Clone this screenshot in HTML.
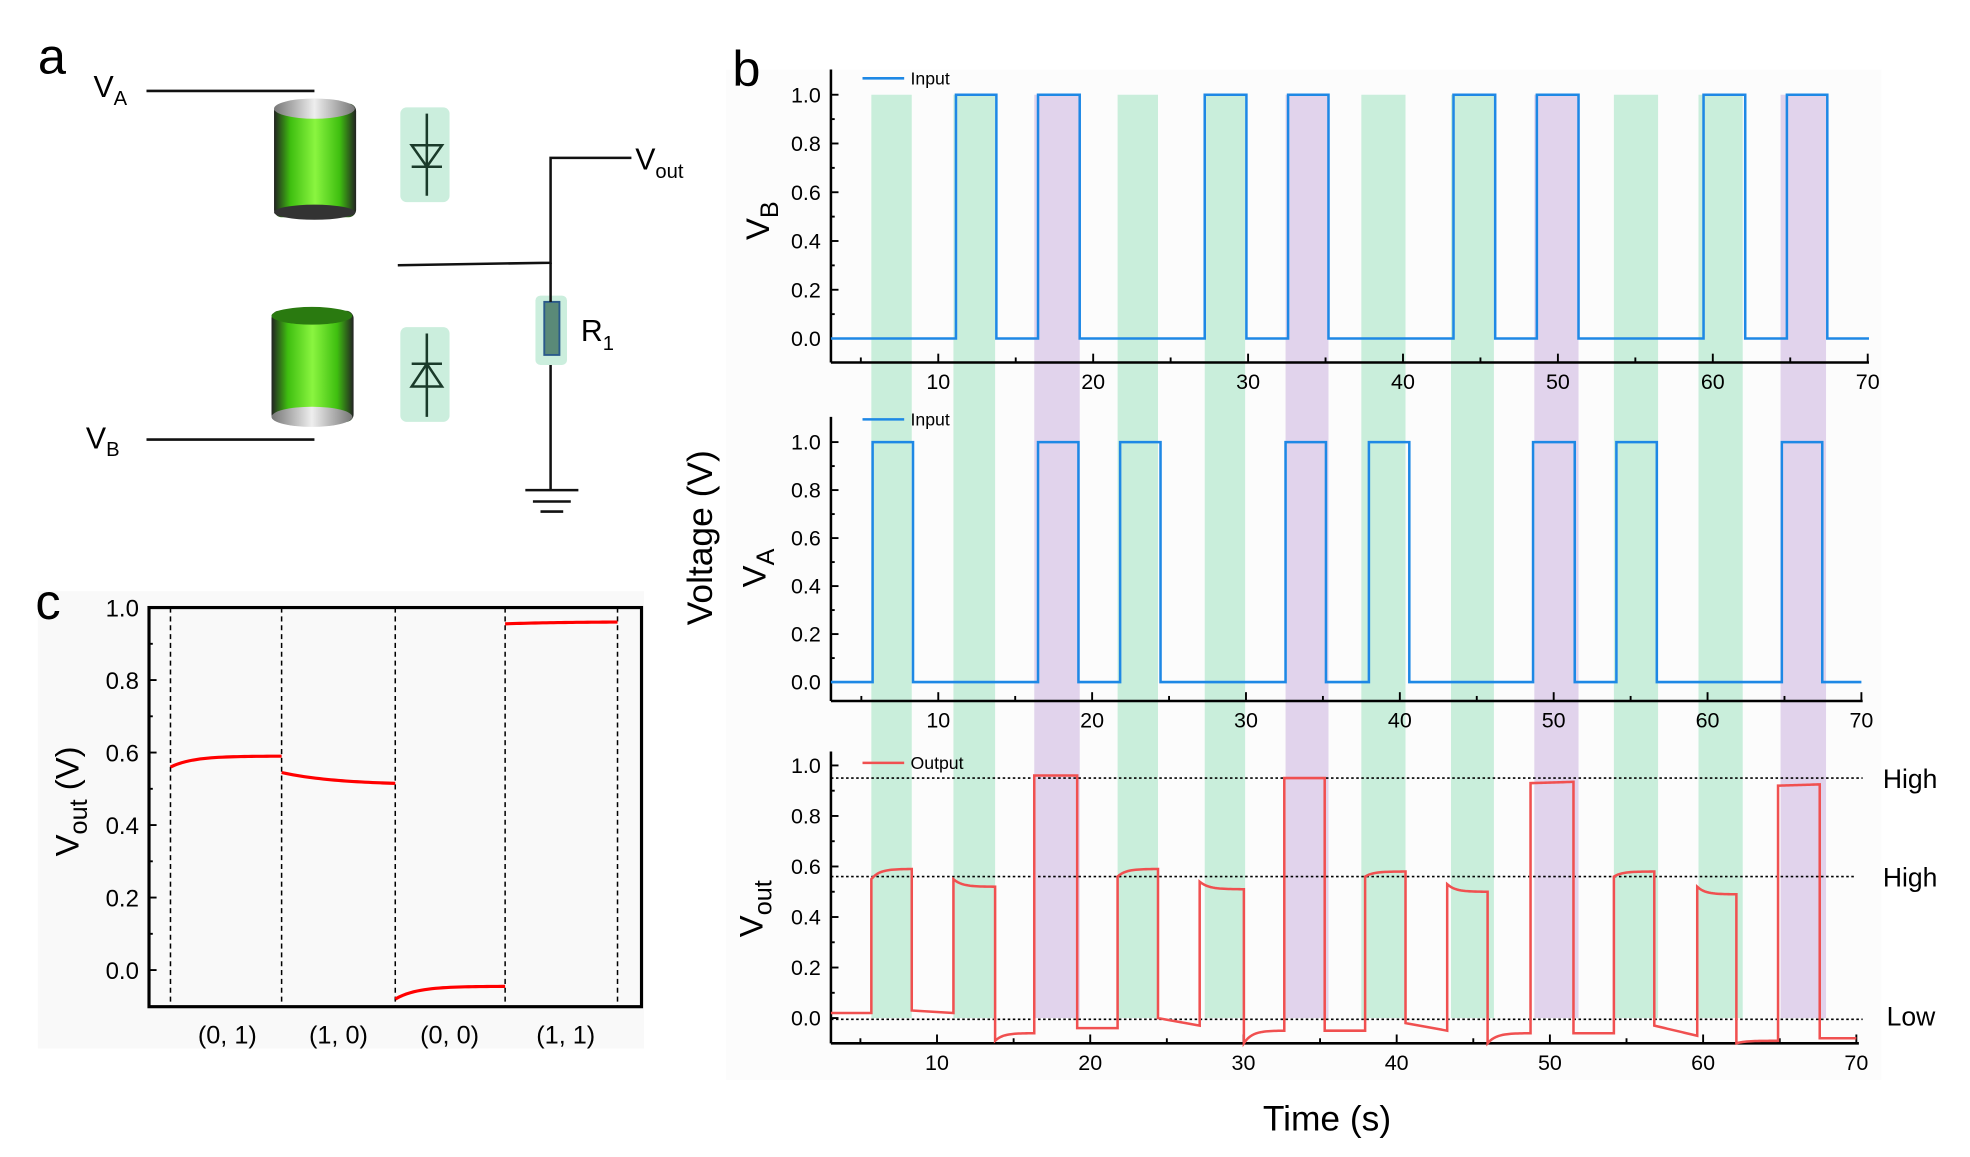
<!DOCTYPE html>
<html><head><meta charset="utf-8"><style>
html,body{margin:0;padding:0;background:#fff;}
svg{display:block;font-family:"Liberation Sans",sans-serif;}
</style></head><body>
<svg id="s" width="1970" height="1157" viewBox="0 0 1560 916" preserveAspectRatio="none" xmlns="http://www.w3.org/2000/svg">
<rect x="0" y="0" width="1560" height="916" fill="#fff"/>
<!-- panel c background -->
<rect x="30" y="468" width="480" height="362" fill="#f9f9f9"/>
<rect x="575" y="55" width="915" height="800" fill="#fcfcfc"/>
<g id="bands"></g>
<g id="axes"></g>
<!-- panel a -->
<text x="30" y="58" font-size="40">a</text>
<text x="580" y="68" font-size="40">b</text>
<text x="28" y="490" font-size="40">c</text>
<text x="74" y="77" font-size="24">V<tspan font-size="16" dy="6">A</tspan></text>
<text x="68" y="355" font-size="24">V<tspan font-size="16" dy="6">B</tspan></text>
<line x1="116" y1="72" x2="249" y2="72" stroke="#111" stroke-width="2"/>
<line x1="116" y1="348" x2="249" y2="348" stroke="#111" stroke-width="2"/>
<defs>
<linearGradient id="bg" x1="0" x2="1"><stop offset="0" stop-color="#222"/><stop offset="0.2" stop-color="#3fbf10"/><stop offset="0.5" stop-color="#8af540"/><stop offset="0.8" stop-color="#3fbf10"/><stop offset="1" stop-color="#222"/></linearGradient>
<linearGradient id="mg" x1="0" x2="1"><stop offset="0" stop-color="#777"/><stop offset="0.5" stop-color="#eee"/><stop offset="1" stop-color="#777"/></linearGradient>
</defs>
<g>
<rect x="217" y="82" width="65" height="90" rx="6" fill="url(#bg)"/>
<ellipse cx="249" cy="86" rx="32" ry="8" fill="url(#mg)"/>
<ellipse cx="249" cy="168" rx="32" ry="6" fill="#333"/>
<rect x="215" y="246" width="65" height="88" rx="6" fill="url(#bg)"/>
<ellipse cx="247" cy="250" rx="32" ry="7" fill="#2a7a10"/>
<ellipse cx="247" cy="330" rx="32" ry="8" fill="url(#mg)"/>
</g>
<rect x="317" y="85" width="39" height="75" rx="5" fill="#cbeedd"/>
<line x1="338" y1="90" x2="338" y2="155" stroke="#1a3a2a" stroke-width="2"/>
<polygon points="326,115 350,115 338,132" fill="none" stroke="#1a3a2a" stroke-width="2"/>
<line x1="326" y1="132" x2="350" y2="132" stroke="#1a3a2a" stroke-width="2"/>
<rect x="317" y="259" width="39" height="75" rx="5" fill="#cbeedd"/>
<line x1="338" y1="264" x2="338" y2="330" stroke="#1a3a2a" stroke-width="2"/>
<polygon points="326,306 350,306 338,288" fill="none" stroke="#1a3a2a" stroke-width="2"/>
<line x1="326" y1="288" x2="350" y2="288" stroke="#1a3a2a" stroke-width="2"/>
<polyline points="315,210 436,208 436,125 500,125" fill="none" stroke="#111" stroke-width="2"/>
<rect x="424" y="234" width="25" height="55" rx="4" fill="#cbeedd"/>
<rect x="431" y="239" width="12" height="42" fill="#5a8a78" stroke="#2a5a8a" stroke-width="1.5"/>
<line x1="436" y1="208" x2="436" y2="239" stroke="#111" stroke-width="2"/>
<line x1="436" y1="289" x2="436" y2="388" stroke="#111" stroke-width="2"/>
<line x1="416" y1="388" x2="458" y2="388" stroke="#111" stroke-width="2"/>
<line x1="422" y1="397" x2="452" y2="397" stroke="#111" stroke-width="2"/>
<line x1="428" y1="405" x2="446" y2="405" stroke="#111" stroke-width="2"/>
<text x="503" y="134" font-size="24">V<tspan font-size="16" dy="7">out</tspan></text>
<text x="460" y="270" font-size="24">R<tspan font-size="16" dy="7">1</tspan></text>
<g id="data"></g>
<!-- labels -->
<text transform="translate(609,190) rotate(-90)" font-size="26">V<tspan font-size="20" dy="7">B</tspan></text>
<text transform="translate(606,465) rotate(-90)" font-size="26">V<tspan font-size="20" dy="7">A</tspan></text>
<text transform="translate(604,742) rotate(-90)" font-size="26">V<tspan font-size="20" dy="7">out</tspan></text>
<text transform="translate(564,495) rotate(-90)" font-size="28">Voltage (V)</text>
<text x="1000" y="895" font-size="28">Time (s)</text>
<text transform="translate(62,678) rotate(-90)" font-size="26">V<tspan font-size="20" dy="7">out</tspan><tspan dy="-7">  (V)</tspan></text>
<text x="1491" y="624" font-size="21">High</text>
<text x="1491" y="702" font-size="21">High</text>
<text x="1494" y="812" font-size="21">Low</text>
<g font-size="20" text-anchor="middle">
<text x="180" y="826">(0,  1)</text><text x="268" y="826">(1,  0)</text>
<text x="356" y="826">(0,  0)</text><text x="448" y="826">(1,  1)</text>
</g>
</svg>
<script>
const NS="http://www.w3.org/2000/svg";
function el(p,t,a){const e=document.createElementNS(NS,t);for(const k in a)e.setAttribute(k,a[k]);document.getElementById(p).appendChild(e);return e;}
function txt(p,x,y,s,a){const e=el(p,'text',Object.assign({x:x,y:y,'font-size':17},a||{}));e.textContent=s;}
// bands
const G=[[690,722],[755,788],[885,917],[954,986],[1078,1113],[1149,1183],[1278,1313],[1345,1380]];
const P=[[819,855],[1018,1052],[1215,1250],[1410,1446]];
G.forEach(b=>el('bands','rect',{x:b[0],y:75,width:b[1]-b[0],height:731,fill:'#c9eedb'}));
P.forEach(b=>el('bands','rect',{x:b[0],y:75,width:b[1]-b[0],height:731,fill:'#e1d3ec'}));
// axes
function axis(x0,x1,ytop,ybot,y1,y0,t10,t70,ylab){
 el('axes','line',{x1:x0,y1:ytop,x2:x0,y2:ybot,stroke:'#000','stroke-width':2});
 el('axes','line',{x1:x0,y1:ybot,x2:x1,y2:ybot,stroke:'#000','stroke-width':2});
 const k=(t70-t10)/60;
 for(let t=5;t<=70;t+=5){const x=t10+(t-10)*k;if(x<x0)continue;
  el('axes','line',{x1:x,y1:ybot,x2:x,y2:ybot-(t%10?4:7),stroke:'#000','stroke-width':1.5});
  if(t%10==0)txt('axes',x,ybot+21,String(t),{'text-anchor':'middle'});}
 for(let i=0;i<=10;i++){const v=i/10,y=y0+(y1-y0)*v;
  el('axes','line',{x1:x0,y1:y,x2:x0+(i%2?3:6),y2:y,stroke:'#000','stroke-width':1.5});
  if(i%2==0)txt('axes',x0-8,y+6,v.toFixed(1),{'text-anchor':'end'});}
}
axis(658,1480,55,287,75,268,743,1479);
axis(658,1475,330,555,350,540,743,1474);
axis(658,1472,595,826,606,806,742,1470);
// legends
el('axes','line',{x1:683,y1:62,x2:716,y2:62,stroke:'#1e88e5','stroke-width':2});txt('axes',721,67,'Input',{'font-size':14});
el('axes','line',{x1:683,y1:332,x2:716,y2:332,stroke:'#1e88e5','stroke-width':2});txt('axes',721,337,'Input',{'font-size':14});
el('axes','line',{x1:683,y1:604,x2:716,y2:604,stroke:'#f05050','stroke-width':2});txt('axes',721,609,'Output',{'font-size':14});
// square waves
function sq(x0,x1,yl,yh,hs){let p=[[x0,yl]];hs.forEach(h=>{p.push([h[0],yl],[h[0],yh],[h[1],yh],[h[1],yl]);});p.push([x1,yl]);
 el('data','polyline',{points:p.map(q=>q.join(',')).join(' '),fill:'none',stroke:'#1e88e5','stroke-width':2});}
sq(658,1480,268,75,[[757,789],[822,855],[954,987],[1020,1052],[1151,1184],[1217,1250],[1349,1382],[1415,1447]]);
sq(658,1474,540,350,[[691,723],[822,854],[887,919],[1018,1050],[1084,1116],[1214,1247],[1280,1312],[1411,1443]]);
// dotted lines
[[616,1475],[694,1468],[807,1475]].forEach(d=>el('data','line',{x1:658,y1:d[0],x2:d[1],y2:d[0],stroke:'#000','stroke-width':1.3,'stroke-dasharray':'2,2'}));
// output
const Y=v=>806-200*v;
function seg(xa,xb,va,vb,sat){const p=[];for(let i=0;i<=20;i++){const f=i/20;const g=sat?(1-Math.exp(-5*f))/(1-Math.exp(-5)):f;p.push([xa+(xb-xa)*f,Y(va+(vb-va)*g)]);}return p;}
const S=[[658,690,0.02,0.02,0],[690,722,0.55,0.59,1],[722,755,0.03,0.02,0],[755,788,0.55,0.52,1],[788,819,-0.09,-0.06,1],[819,853,0.96,0.96,0],[853,885,-0.04,-0.04,0],[885,917,0.56,0.59,1],[917,950,0.0,-0.03,0],[950,985,0.54,0.51,1],[985,1017,-0.1,-0.05,1],[1017,1049,0.95,0.95,0],[1049,1081,-0.05,-0.05,0],[1081,1113,0.56,0.58,1],[1113,1146,-0.02,-0.05,0],[1146,1178,0.53,0.5,1],[1178,1212,-0.1,-0.06,1],[1212,1246,0.93,0.935,0],[1246,1278,-0.06,-0.06,0],[1278,1310,0.56,0.58,1],[1310,1344,-0.03,-0.07,0],[1344,1375,0.52,0.49,1],[1375,1408,-0.1,-0.09,1],[1408,1441,0.92,0.925,0],[1441,1470,-0.08,-0.08,0]];
let pts=[];S.forEach(s=>{pts=pts.concat(seg(s[0],s[1],s[2],s[3],s[4]));});
el('data','polyline',{points:pts.map(q=>q.join(',')).join(' '),fill:'none',stroke:'#f05050','stroke-width':2});
// panel c
const cy=v=>768-287*v;
el('data','rect',{x:118,y:481,width:390,height:316,fill:'none',stroke:'#000','stroke-width':2.5});
[135,223,313,400,489].forEach(x=>el('data','line',{x1:x,y1:481,x2:x,y2:797,stroke:'#000','stroke-width':1.2,'stroke-dasharray':'4,3'}));
for(let i=0;i<=10;i++){const v=i/10,y=cy(v);el('data','line',{x1:118,y1:y,x2:118+(i%2?3:6),y2:y,stroke:'#000','stroke-width':1.5});
 if(i%2==0)txt('data',110,y+7,v.toFixed(1),{'text-anchor':'end','font-size':19});}
function cseg(xa,xb,va,vb,sat){const p=[];for(let i=0;i<=30;i++){const f=i/30;const g=sat?(1-Math.exp(-5*f))/(1-Math.exp(-5)):(1-Math.exp(-2*f))/(1-Math.exp(-2));p.push([xa+(xb-xa)*f,cy(va+(vb-va)*g)]);}
 el('data','polyline',{points:p.map(q=>q.join(',')).join(' '),fill:'none',stroke:'#f00','stroke-width':2.5});}
cseg(135,223,0.56,0.59,1);cseg(223,313,0.545,0.515,0);cseg(313,400,-0.08,-0.045,1);cseg(400,489,0.955,0.96,0);
</script>
</body></html>
